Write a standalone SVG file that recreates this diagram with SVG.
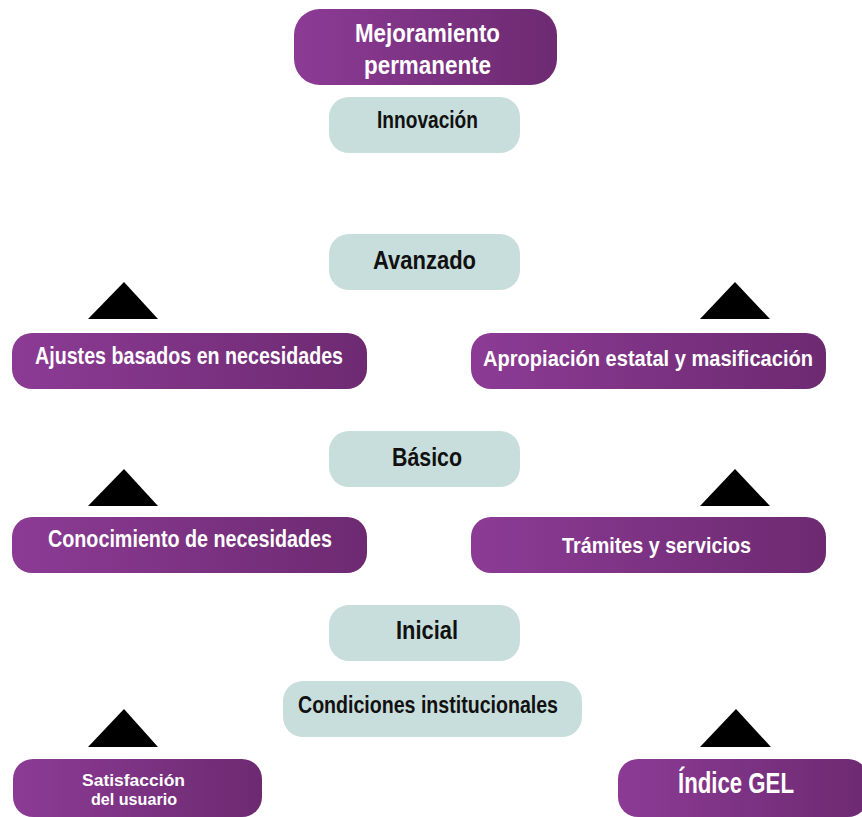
<svg xmlns="http://www.w3.org/2000/svg" width="862" height="817" viewBox="0 0 862 817">
<defs>
<linearGradient id="pg" x1="0" y1="0" x2="1" y2="0">
<stop offset="0" stop-color="#8C3B95"/>
<stop offset="1" stop-color="#6D2A71"/>
</linearGradient>
<style>
.p{fill:url(#pg)}
.g{fill:#C8DEDC}
.tw,.tb{font-family:"Liberation Sans",Arial,sans-serif;font-weight:bold}
.tw{fill:#fff}
.tb{fill:#111}
.tri{fill:#000}
</style>
</defs>
<rect width="862" height="817" fill="#fff"/>
<g id="mejoramiento"><rect class="p" x="294" y="9" width="263" height="76" rx="26"/><text class="tw" x="355" y="42" font-size="26" textLength="145" lengthAdjust="spacingAndGlyphs">Mejoramiento</text><text class="tw" x="364" y="74" font-size="26" textLength="127" lengthAdjust="spacingAndGlyphs">permanente</text></g>
<g id="innovacion"><rect class="g" x="329" y="97" width="191" height="56" rx="20"/><text class="tb" x="377" y="128" font-size="24" textLength="101" lengthAdjust="spacingAndGlyphs">Innovación</text></g>
<g id="avanzado"><rect class="g" x="329" y="234" width="191" height="56" rx="20"/><text class="tb" x="373" y="269" font-size="26" textLength="103" lengthAdjust="spacingAndGlyphs">Avanzado</text></g>
<g id="basico"><rect class="g" x="329" y="431" width="191" height="56" rx="20"/><text class="tb" x="392" y="466" font-size="26" textLength="70" lengthAdjust="spacingAndGlyphs">Básico</text></g>
<g id="inicial"><rect class="g" x="329" y="605" width="191" height="56" rx="20"/><text class="tb" x="396" y="639" font-size="25" textLength="62" lengthAdjust="spacingAndGlyphs">Inicial</text></g>
<g id="condiciones"><rect class="g" x="283" y="681" width="299" height="56" rx="20"/><text class="tb" x="298" y="713" font-size="23" textLength="260" lengthAdjust="spacingAndGlyphs">Condiciones institucionales</text></g>
<g id="ajustes"><rect class="p" x="12" y="333" width="355" height="56" rx="20"/><text class="tw" x="35" y="364" font-size="23" textLength="308" lengthAdjust="spacingAndGlyphs">Ajustes basados en necesidades</text></g>
<g id="apropiacion"><rect class="p" x="471" y="333" width="355" height="56" rx="20"/><text class="tw" x="483" y="366" font-size="22" textLength="330" lengthAdjust="spacingAndGlyphs">Apropiación estatal y masificación</text></g>
<g id="conocimiento"><rect class="p" x="12" y="517" width="355" height="56" rx="20"/><text class="tw" x="48" y="547" font-size="23" textLength="284" lengthAdjust="spacingAndGlyphs">Conocimiento de necesidades</text></g>
<g id="tramites"><rect class="p" x="471" y="517" width="355" height="56" rx="20"/><text class="tw" x="562" y="553" font-size="22" textLength="189" lengthAdjust="spacingAndGlyphs">Trámites y servicios</text></g>
<g id="satisfaccion"><rect class="p" x="13" y="759" width="249" height="58" rx="20"/><text class="tw" x="82" y="786" font-size="16.5" textLength="103" lengthAdjust="spacingAndGlyphs">Satisfacción</text><text class="tw" x="91" y="805" font-size="16.5" textLength="86" lengthAdjust="spacingAndGlyphs">del usuario</text></g>
<g id="indice"><rect class="p" x="618" y="759" width="250" height="58" rx="20"/><text class="tw" x="678" y="793" font-size="30" textLength="116" lengthAdjust="spacingAndGlyphs">Índice GEL</text></g>
<g id="connectors">
<polygon class="tri" points="124,282 158,319 88,319"/>
<polygon class="tri" points="735,282 770,319 700,319"/>
<polygon class="tri" points="124,469 158,506 88,506"/>
<polygon class="tri" points="735,469 770,506 700,506"/>
<polygon class="tri" points="124,709 158,747 88,747"/>
<polygon class="tri" points="736,709 771,747 700,747"/>
</g>
</svg>
